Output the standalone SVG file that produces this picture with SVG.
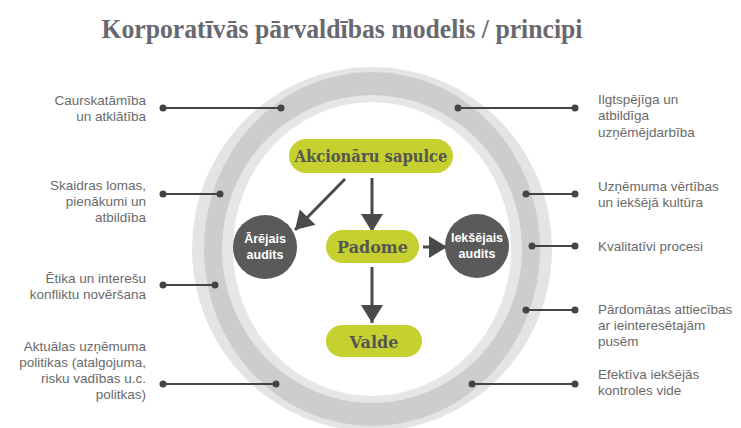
<svg xmlns="http://www.w3.org/2000/svg" width="741" height="428" viewBox="0 0 741 428">
<style>
.title{font-family:"Liberation Serif","DejaVu Serif",serif;font-weight:bold;font-size:27px;fill:#68686f}
.lbl{font-family:"Liberation Sans","Arial",sans-serif;font-size:13.5px;fill:#6a6a6a}
.lblL{text-anchor:end}
.pill{fill:#c6d02e}
.ptxt{font-family:"DejaVu Serif","Liberation Serif",serif;font-weight:bold;font-size:16px;fill:#555555;text-anchor:middle}
.circ{fill:#5a5a5a}
.ctxt{font-family:"Liberation Sans","Arial",sans-serif;font-weight:bold;font-size:12.5px;fill:#ffffff;text-anchor:middle}
.lead{stroke:#444;stroke-width:2;fill:none}
.dot{fill:#444}
.arr{stroke:#4a4a4a;stroke-width:3;fill:none}
</style>
<defs>
<marker id="ah" markerUnits="userSpaceOnUse" markerWidth="22" markerHeight="22" viewBox="0 0 18 22" refX="18" refY="11" orient="auto">
<path d="M0,0 L18,11 L0,22 Z" fill="#4a4a4a"/>
</marker>
</defs>
<rect width="741" height="428" fill="#ffffff"/>
<text class="title" x="342" y="38" text-anchor="middle" textLength="481" lengthAdjust="spacingAndGlyphs">Korporatīvās pārvaldības modelis / principi</text>
<g id="ring">
<ellipse cx="372" cy="249" rx="180" ry="182" fill="#e4e4e4"/>
<ellipse cx="372" cy="249" rx="168" ry="177" fill="#cdcdcd"/>
<ellipse cx="372" cy="249" rx="150" ry="154" fill="#e6e6e6"/>
<ellipse cx="372" cy="249" rx="139" ry="147" fill="#ffffff"/>
</g>
<g id="connectors">
<line class="lead" x1="163" y1="108" x2="281" y2="108"/>
<circle class="dot" cx="163" cy="108" r="3.5"/><circle class="dot" cx="281" cy="108" r="3.5"/>
<line class="lead" x1="163" y1="194" x2="220" y2="194"/>
<circle class="dot" cx="163" cy="194" r="3.5"/><circle class="dot" cx="220" cy="194" r="3.5"/>
<line class="lead" x1="163" y1="285" x2="215" y2="285"/>
<circle class="dot" cx="163" cy="285" r="3.5"/><circle class="dot" cx="215" cy="285" r="3.5"/>
<line class="lead" x1="163" y1="384" x2="276" y2="384"/>
<circle class="dot" cx="163" cy="384" r="3.5"/><circle class="dot" cx="276" cy="384" r="3.5"/>
<line class="lead" x1="458" y1="108" x2="575" y2="108"/>
<circle class="dot" cx="458" cy="108" r="3.5"/><circle class="dot" cx="575" cy="108" r="3.5"/>
<line class="lead" x1="526" y1="194" x2="575" y2="194"/>
<circle class="dot" cx="526" cy="194" r="3.5"/><circle class="dot" cx="575" cy="194" r="3.5"/>
<line class="lead" x1="532" y1="246" x2="575" y2="246"/>
<circle class="dot" cx="532" cy="246" r="3.5"/><circle class="dot" cx="575" cy="246" r="3.5"/>
<line class="lead" x1="526" y1="310" x2="575" y2="310"/>
<circle class="dot" cx="526" cy="310" r="3.5"/><circle class="dot" cx="575" cy="310" r="3.5"/>
<line class="lead" x1="472" y1="384" x2="575" y2="384"/>
<circle class="dot" cx="472" cy="384" r="3.5"/><circle class="dot" cx="575" cy="384" r="3.5"/>
<line class="arr" x1="372" y1="178" x2="372" y2="232" marker-end="url(#ah)"/>
<line class="arr" x1="345" y1="179" x2="295" y2="230" marker-end="url(#ah)"/>
<line class="arr" x1="423" y1="247" x2="447" y2="247" marker-end="url(#ah)"/>
<line class="arr" x1="372" y1="267" x2="372" y2="323" marker-end="url(#ah)"/>
</g>
<g id="label-caurskatamiba"><text class="lbl lblL" x="146" y="105">Caurskatāmība</text><text class="lbl lblL" x="146" y="121">un atklātība</text></g>
<g id="label-skaidras"><text class="lbl lblL" x="146" y="190">Skaidras lomas,</text><text class="lbl lblL" x="146" y="206">pienākumi un</text><text class="lbl lblL" x="146" y="222">atbildība</text></g>
<g id="label-etika"><text class="lbl lblL" x="146" y="283">Ētika un interešu</text><text class="lbl lblL" x="146" y="299">konfliktu novēršana</text></g>
<g id="label-aktualas"><text class="lbl lblL" x="146" y="351">Aktuālas uzņēmuma</text><text class="lbl lblL" x="146" y="367">politikas (atalgojuma,</text><text class="lbl lblL" x="146" y="383">risku vadības u.c.</text><text class="lbl lblL" x="146" y="399">politkas)</text></g>
<g id="label-ilgtspejiga"><text class="lbl" x="598" y="104">Ilgtspējīga un</text><text class="lbl" x="598" y="120">atbildīga</text><text class="lbl" x="598" y="137">uzņēmējdarbība</text></g>
<g id="label-vertibas"><text class="lbl" x="598" y="191">Uzņēmuma vērtības</text><text class="lbl" x="598" y="207">un iekšējā kultūra</text></g>
<g id="label-procesi"><text class="lbl" x="598" y="251">Kvalitatīvi procesi</text></g>
<g id="label-attiecibas"><text class="lbl" x="598" y="314">Pārdomātas attiecības</text><text class="lbl" x="598" y="330">ar ieinteresētajām</text><text class="lbl" x="598" y="346">pusēm</text></g>
<g id="label-kontrole"><text class="lbl" x="598" y="379">Efektīva iekšējās</text><text class="lbl" x="598" y="395">kontroles vide</text></g>
<g id="node-akcionaru"><rect class="pill" x="289" y="139" width="164" height="34" rx="17"/><text class="ptxt" x="371" y="162" textLength="153" lengthAdjust="spacingAndGlyphs">Akcionāru sapulce</text></g>
<g id="node-padome"><rect class="pill" x="326" y="230" width="93" height="33" rx="16.5"/><text class="ptxt" x="372.5" y="252.5">Padome</text></g>
<g id="node-valde"><rect class="pill" x="326" y="325" width="96" height="32" rx="16"/><text class="ptxt" x="374" y="348">Valde</text></g>
<g id="node-arejais"><circle class="circ" cx="265" cy="247" r="32"/><text class="ctxt" x="265" y="243">Ārējais</text><text class="ctxt" x="265" y="259">audits</text></g>
<g id="node-ieksejais"><circle class="circ" cx="477" cy="246" r="32"/><text class="ctxt" x="477" y="242">Iekšējais</text><text class="ctxt" x="477" y="258">audits</text></g>
</svg>
